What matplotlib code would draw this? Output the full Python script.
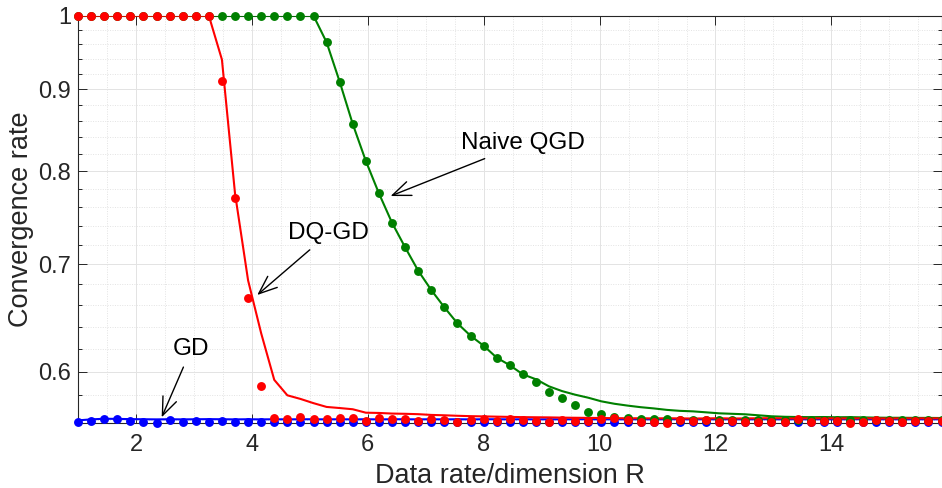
import numpy as np
import matplotlib
matplotlib.use("Agg")
import matplotlib.pyplot as plt
from matplotlib.ticker import FixedLocator, FixedFormatter, NullFormatter

plt.rcParams['font.family'] = ['Liberation Sans', 'DejaVu Sans']

# ---------------- data ----------------
# data rate/dimension R sampling grid (67 samples)
R = np.linspace(1.0, 15.9, 67)

# DQ-GD: simulation (markers) and theory (line)
dqgd_sim = [1.0] * 11 + [
    0.910, 0.770, 0.667, 0.588,
    0.5612, 0.5604, 0.5620, 0.5606, 0.5606, 0.5617, 0.5617, 0.5593, 0.5612, 0.5606,
    0.5606, 0.5593, 0.5604, 0.5598, 0.5585, 0.5598, 0.5606, 0.5590, 0.5604, 0.5598,
    0.5593, 0.5585, 0.5598, 0.5593, 0.5593, 0.5606, 0.5612, 0.5598,
    0.5585, 0.5585, 0.5577, 0.5598, 0.5590, 0.5598, 0.5585, 0.5590, 0.5585, 0.5585,
    0.5585, 0.5585, 0.5604, 0.5585, 0.5590, 0.5593, 0.5577, 0.5585, 0.5598, 0.5593,
    0.5582, 0.5590, 0.5590, 0.5590]
dqgd_theory = [1.0] * 11 + [
    0.939, 0.775, 0.684, 0.634,
    0.593, 0.580, 0.577, 0.5735, 0.5704, 0.5695, 0.5685, 0.5657, 0.5655, 0.5650,
    0.5648, 0.5645, 0.5639, 0.5636, 0.5632, 0.5629, 0.5627, 0.5625, 0.5623, 0.5621,
    0.5620, 0.5619, 0.5617, 0.5616, 0.5615, 0.5614, 0.5613, 0.5612,
    0.5612, 0.5611, 0.5612, 0.5611, 0.5610, 0.5611, 0.5612, 0.5610, 0.5611, 0.5612,
    0.5613, 0.5611, 0.5610, 0.5611, 0.5612, 0.5611, 0.5610, 0.5612, 0.5611, 0.5610,
    0.5611, 0.5612, 0.5611, 0.5611]

# Naive QGD: simulation (markers) and theory (line)
naive_sim = [1.0] * 19 + [
    0.9626, 0.9096, 0.856, 0.8118, 0.775, 0.743, 0.7173, 0.6936, 0.6746, 0.6581,
    0.6431, 0.6318, 0.6228, 0.6122, 0.6056, 0.5977, 0.591, 0.583, 0.5775, 0.572,
    0.5665, 0.5644, 0.5625, 0.5617, 0.5610,
    0.5605, 0.5603, 0.5602, 0.5600, 0.5601, 0.5600, 0.5599, 0.5600, 0.5601, 0.5600,
    0.5599, 0.5600, 0.5600, 0.5599, 0.5600, 0.5601, 0.5600, 0.5599, 0.5600, 0.5600,
    0.5599, 0.5600, 0.5600]
naive_theory = [1.0] * 19 + [
    0.9626, 0.9096, 0.856, 0.8118, 0.775, 0.743, 0.7173, 0.6936, 0.6746, 0.6581,
    0.6431, 0.6318, 0.6228, 0.6122, 0.6056, 0.5977, 0.5935, 0.5875, 0.5835, 0.5805,
    0.5780, 0.5750, 0.5730, 0.5715, 0.5702, 0.5692, 0.5680, 0.5672, 0.5668, 0.5660,
    0.5652, 0.5648, 0.5644, 0.5636, 0.5628, 0.5624, 0.5622, 0.5621, 0.5622, 0.5620,
    0.5621, 0.5619, 0.5617, 0.5616, 0.5616, 0.5615, 0.5615, 0.5614]

# GD: simulation (markers) and theory (line)
gd_sim = [
    0.5585, 0.5593, 0.5606, 0.5604, 0.5593, 0.5585, 0.5577, 0.5598, 0.5580, 0.5593,
    0.5585, 0.5593, 0.5585, 0.5585, 0.5585, 0.5580, 0.5582, 0.5585, 0.5583, 0.5584,
    0.5582, 0.5580, 0.5583, 0.5585, 0.5582, 0.5583, 0.5580, 0.5584, 0.5582, 0.5583,
    0.5585, 0.5582, 0.5580, 0.5583, 0.5584, 0.5582, 0.5583, 0.5580, 0.5582, 0.5584,
    0.5583, 0.5582, 0.5585, 0.5583, 0.5580, 0.5582, 0.5584, 0.5583, 0.5582, 0.5580,
    0.5583, 0.5585, 0.5582, 0.5583, 0.5580, 0.5582, 0.5584, 0.5583, 0.5582, 0.5580,
    0.5583, 0.5584, 0.5582, 0.5583, 0.5580, 0.5582, 0.5583]
gd_theory = [0.5595, 0.5603, 0.5608, 0.5607, 0.5605] + [
    0.5604, 0.5603, 0.5604, 0.5603, 0.5604, 0.5605, 0.5604, 0.5603, 0.5604, 0.5603,
    0.5604, 0.5603, 0.5604, 0.5604, 0.5603, 0.5604, 0.5603, 0.5604, 0.5603, 0.5604,
    0.5604, 0.5603, 0.5604, 0.5603, 0.5604, 0.5603, 0.5604, 0.5604, 0.5603, 0.5604,
    0.5603, 0.5604, 0.5603, 0.5604, 0.5604, 0.5603, 0.5604, 0.5603, 0.5604, 0.5603,
    0.5604, 0.5604, 0.5603, 0.5604, 0.5603, 0.5604, 0.5603, 0.5604, 0.5604, 0.5603,
    0.5604, 0.5603, 0.5604, 0.5603, 0.5604, 0.5604, 0.5603, 0.5604, 0.5603, 0.5604,
    0.5603, 0.5604]

yticks = [0.6, 0.7, 0.8, 0.9, 1.0]
ytick_labels = ['0.6', '0.7', '0.8', '0.9', '1']
xticks = [2, 4, 6, 8, 10, 12, 14]
xtick_labels = ['2', '4', '6', '8', '10', '12', '14']
labels = ['GD', 'DQ-GD', 'Naive QGD']

# ---------------- figure ----------------
fig = plt.figure(figsize=(9.42, 4.88), dpi=100)
ax = fig.add_axes([78 / 942, 1 - 423 / 488, (941.5 - 78) / 942, (423 - 15.7) / 488])

RED = '#ff0000'
GREEN = '#008000'
BLUE = '#0000ff'
lw = 1.5
ms = 6.4

for theory, sim, c in [(gd_theory, gd_sim, BLUE),
                       (naive_theory, naive_sim, GREEN),
                       (dqgd_theory, dqgd_sim, RED)]:
    ax.plot(R, theory, '-', color=c, lw=lw, zorder=3)
    ax.plot(R, sim, 'o', color=c, ms=ms, markeredgewidth=0, zorder=4, clip_on=False)

ax.set_yscale('log')
ax.set_xlim(1.0, 15.9)
ax.set_ylim(0.5574, 1.0)

ax.yaxis.set_major_locator(FixedLocator(yticks))
ax.yaxis.set_major_formatter(FixedFormatter(ytick_labels))
minor_y = [v for v in np.round(np.arange(0.56, 1.0, 0.02), 2) if round(v, 2) not in (0.6, 0.7, 0.8, 0.9)]
ax.yaxis.set_minor_locator(FixedLocator(minor_y))
ax.yaxis.set_minor_formatter(NullFormatter())

ax.xaxis.set_major_locator(FixedLocator(xticks))
ax.xaxis.set_major_formatter(FixedFormatter(xtick_labels))
ax.xaxis.set_minor_locator(FixedLocator(np.arange(1.0, 16.0, 0.5)))

ax.grid(True, which='major', color='#e3e3e3', lw=0.7, ls='-', zorder=0)
ax.grid(True, which='minor', color='#e3e3e3', lw=0.7, ls=(0, (1, 1.5)), zorder=0)
ax.set_axisbelow(True)

spine_c = '#262626'
for s in ax.spines.values():
    s.set_color(spine_c)
    s.set_linewidth(0.8)

ax.tick_params(axis='both', which='both', direction='in', top=True, right=True,
               colors=spine_c, width=0.7)
ax.tick_params(axis='both', which='major', length=6.5, labelsize=17, labelcolor='#262626')
ax.tick_params(axis='y', which='minor', length=3.2)
ax.tick_params(axis='x', which='minor', length=0)
ax.tick_params(axis='x', which='major', pad=8)
ax.tick_params(axis='y', which='major', pad=5)

ax.set_xlabel('Data rate/dimension R', fontsize=19.5, color='#262626', labelpad=5)
ax.set_ylabel('Convergence rate', fontsize=19.5, color='#262626', labelpad=3)

arrow = dict(arrowstyle='->,head_length=0.75,head_width=0.3', color='black', lw=1.0,
             shrinkA=3, shrinkB=0)
ax.annotate(labels[0], xy=(2.444, 0.5620), xytext=(0.1309, 0.1805),
            textcoords='axes fraction', ha='center', va='center', fontsize=17.5,
            arrowprops=arrow, zorder=6)
ax.annotate(labels[1], xy=(4.093, 0.6698), xytext=(0.2906, 0.4657),
            textcoords='axes fraction', ha='center', va='center', fontsize=17.5,
            arrowprops=arrow, zorder=6)
ax.annotate(labels[2], xy=(6.394, 0.772), xytext=(0.5156, 0.6867),
            textcoords='axes fraction', ha='center', va='center', fontsize=17.5,
            arrowprops=arrow, zorder=6)

fig.savefig('out.png', dpi=100)
